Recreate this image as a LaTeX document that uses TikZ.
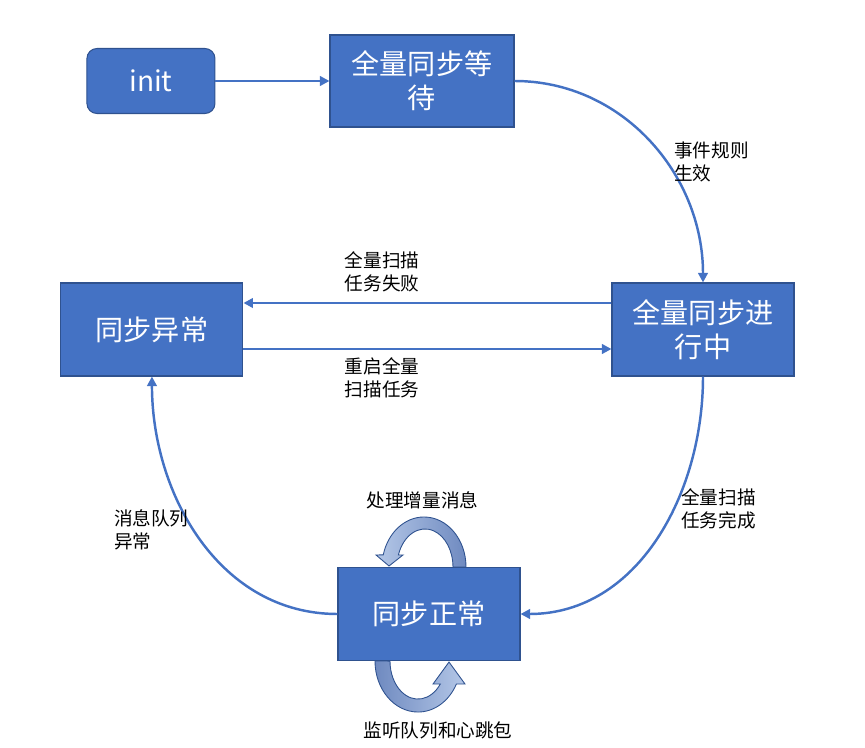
\documentclass[tikz,border=0pt]{standalone}
\usepackage{fontspec}
\usepackage{tikz}
\usetikzlibrary{positioning,arrows.meta,calc}
\newfontfamily\cjk{Noto Sans CJK SC}
\definecolor{stblue}{HTML}{4472C4}
\definecolor{stedge}{HTML}{2F528F}
\definecolor{looplt}{HTML}{B4C7E7}
\definecolor{loopdk}{HTML}{6F8AC0}
\tikzset{
  >={Triangle[length=1.9mm,width=1.9mm]},
  stbox/.style={draw=stedge,fill=stblue,line width=0.6pt,minimum width=3.64cm,
    minimum height=1.86cm,text=white,align=center,inner sep=2pt,
    font=\cjk\fontsize{16}{19.5}\selectfont},
  stinit/.style={stbox,rounded corners=2mm,minimum width=2.56cm,minimum height=1.3cm},
  flow/.style={->,draw=stblue,line width=1.4pt},
  flowlbl/.style={font=\cjk\fontsize{10.6}{13.2}\selectfont,align=left,inner sep=1pt},
  loopup/.style={draw=stedge,line width=0.5pt,left color=looplt,right color=loopdk},
  loopdown/.style={draw=stedge,line width=0.5pt,left color=loopdk,right color=looplt},
}
\begin{document}
\begin{tikzpicture}
  \useasboundingbox (0,0) rectangle (17.3,14.94);
  \node[stbox,minimum width=3.68cm,minimum height=1.84cm] (wait) at (8.44,13.32) {全量同步等\\待};
  \node[stinit,left=2.28cm of wait] (init) {init};
  \node[stbox] (run) at (14.06,8.35) {全量同步进\\行中};
  \node[stbox,left=7.36cm of run] (err) {同步异常};
  \node[stbox] (ok) at (8.58,2.66) {同步正常};

  \draw[flow] (init) -- (wait);
  \draw[flow] (wait.east) to[out=0,in=90] (run.north);
  \draw[flow] ([yshift=5.3mm]run.west) -- ([yshift=5.3mm]err.east);
  \draw[flow] ([yshift=-3.9mm]err.east) -- ([yshift=-3.9mm]run.west);
  \draw[flow] (run.south) to[out=-90,in=0] (ok.east);
  \draw[flow] (ok.west) to[out=180,in=-90] (err.south);

  \node[flowlbl] (fail) at (7.64,9.50) {全量扫描\\任务失败};
  \node[flowlbl] (restart) at (7.64,7.39) {重启全量\\扫描任务};
  \node[flowlbl,anchor=west] (rule) at (13.44,11.70) {事件规则\\生效};
  \node[flowlbl,anchor=west] (done) at (13.58,4.76) {全量扫描\\任务完成};
  \node[flowlbl,anchor=west] (mq) at (2.24,4.34) {消息队列\\异常};
  \node[flowlbl] (incr) at (8.45,4.94) {处理增量消息};
  \node[flowlbl] (hb) at (8.76,0.34) {监听队列和心跳包};

  \path[loopup,shift={(ok.north)}] (0.74,0)
    arc[start angle=0,end angle=166,x radius=0.84,y radius=1.0]
    -- (-1.06,0.24) -- (-0.80,0.02) -- (-0.52,0.24) -- (-0.612,0.24)
    arc[start angle=161.6,end angle=0,x radius=0.56,y radius=0.76] -- cycle;
  \path[loopdown,shift={(ok.south)}] (-1.08,0)
    arc[start angle=180,end angle=333.2,x radius=0.86,y radius=1.02]
    -- (0.72,-0.46) -- (0.40,-0.02) -- (0.08,-0.46) -- (0.226,-0.46)
    arc[start angle=322.8,end angle=180,x radius=0.56,y radius=0.76] -- cycle;
\end{tikzpicture}
\end{document}
